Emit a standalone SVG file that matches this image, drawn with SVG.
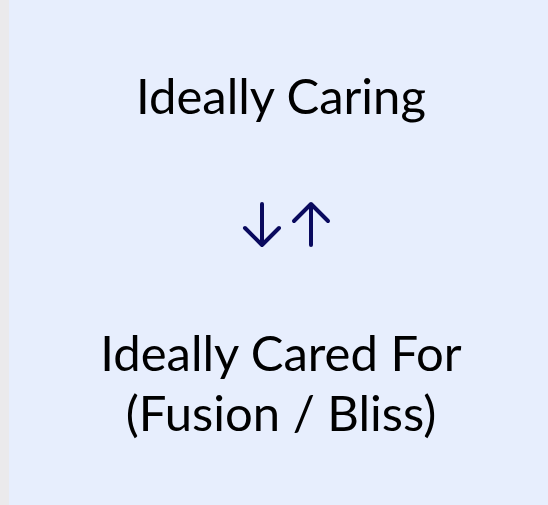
<svg xmlns="http://www.w3.org/2000/svg" width="548" height="505" viewBox="0 0 548 505">
<style>
.t{font-family:"Lato","Open Sans",sans-serif;font-size:49px;fill:#000;text-anchor:middle}
.a{fill:none;stroke:#0a0a5e;stroke-width:4;stroke-linecap:round;stroke-linejoin:round}
</style>
<rect x="0" y="0" width="548" height="505" fill="#e7eefd"/>
<rect x="0" y="0" width="9" height="505" fill="#ebeaec"/>
<g id="caring"><text class="t" x="281" y="114">Ideally Caring</text></g>
<g id="connectors">
<path class="a" d="M262 204 V245 M245 228 L262 245 L279 228"/>
<path class="a" d="M311 204 V245 M294 221 L311 204 L328 221"/>
</g>
<g id="cared"><text class="t" x="281" y="371">Ideally Cared For</text><text class="t" x="281" y="431">(Fusion / Bliss)</text></g>
</svg>
